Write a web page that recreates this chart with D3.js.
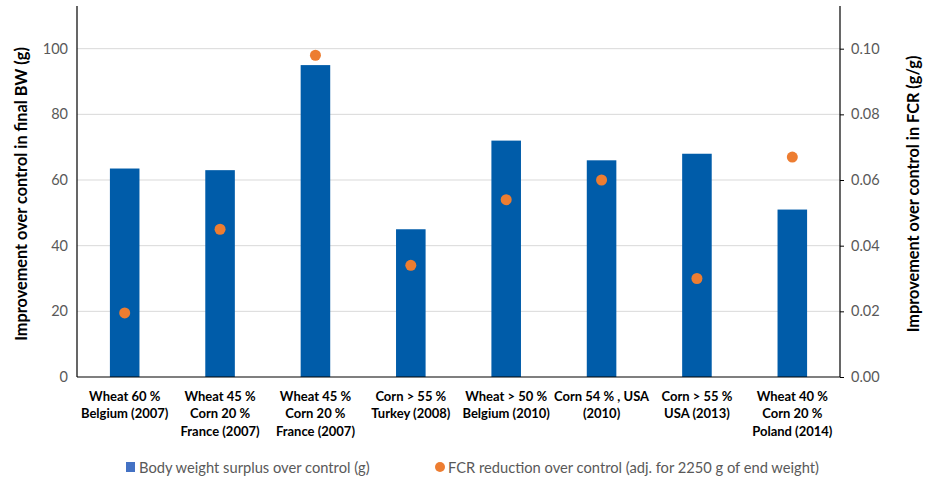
<!DOCTYPE html>
<html>
<head>
<meta charset="utf-8">
<script src="https://cdn.jsdelivr.net/npm/d3@7/dist/d3.min.js"></script>
<style>
  body { margin: 0; background: #fff; }
  svg { display: block; }
  text { font-family: Lato, "Open Sans", sans-serif; }
</style>
</head>
<body>
<svg id="chart" width="933" height="479"></svg>
<script>
const categories = [
  ["Wheat 60 %", "Belgium (2007)"],
  ["Wheat 45 %", "Corn 20 %", "France (2007)"],
  ["Wheat 45 %", "Corn 20 %", "France (2007)"],
  ["Corn > 55 %", "Turkey (2008)"],
  ["Wheat > 50 %", "Belgium (2010)"],
  ["Corn 54 % , USA", "(2010)"],
  ["Corn > 55 %", "USA (2013)"],
  ["Wheat 40 %", "Corn 20 %", "Poland (2014)"]
];
const bwSurplus = [63.5, 63, 95, 45, 72, 66, 68, 51];
const fcrReduction = [0.0195, 0.045, 0.098, 0.034, 0.054, 0.060, 0.030, 0.067];
const leftTicks = [0, 20, 40, 60, 80, 100];
const rightTicks = [0, 0.02, 0.04, 0.06, 0.08, 0.10];
const seriesNames = ["Body weight surplus over control (g)", "FCR reduction over control (adj. for 2250 g of end weight)"];
const leftTitle = "Improvement over  control in final BW (g)";
const rightTitle = "Improvement over  control in FCR  (g/g)";

const svg = d3.select("#chart");
const m = { left: 77, right: 840, top: 6, bottom: 377 };
const idx = categories.map((d, i) => i);

const x = d3.scaleBand().domain(idx).range([m.left, m.right]).paddingInner(0.69).paddingOuter(0.345);
const yL = d3.scaleLinear().domain([0, 113]).range([m.bottom, m.top]);
const yR = d3.scaleLinear().domain([0, 0.113]).range([m.bottom, m.top]);

// gridlines
svg.append("g").selectAll("line").data(leftTicks.filter(t => t > 0)).join("line")
  .attr("x1", m.left).attr("x2", m.right)
  .attr("y1", d => yL(d)).attr("y2", d => yL(d))
  .attr("stroke", "#d9d9d9").attr("stroke-width", 1);

// bars
svg.append("g").selectAll("rect").data(bwSurplus).join("rect")
  .attr("x", (d, i) => x(i)).attr("width", x.bandwidth())
  .attr("y", d => yL(d)).attr("height", d => yL(0) - yL(d))
  .attr("fill", "#005CA9");

// dots
svg.append("g").selectAll("circle").data(fcrReduction).join("circle")
  .attr("cx", (d, i) => x(i) + x.bandwidth() / 2)
  .attr("cy", d => yR(d)).attr("r", 5.5)
  .attr("fill", "#ED7D31");

// left axis
const axL = svg.append("g").attr("transform", `translate(${m.left},0)`)
  .call(d3.axisLeft(yL).tickValues(leftTicks).tickSize(0).tickPadding(9).tickFormat(d3.format("d")));
axL.select(".domain").remove();
axL.selectAll("text").attr("fill", "#595959").style("font-size", "14.5px").style("font-family", "Lato, sans-serif");
svg.append("line").attr("x1", m.left).attr("x2", m.left).attr("y1", m.top).attr("y2", m.bottom)
  .attr("stroke", "#000").attr("stroke-width", 1.2);

// right axis
const axR = svg.append("g").attr("transform", `translate(${m.right},0)`)
  .call(d3.axisRight(yR).tickValues(rightTicks).tickSize(4).tickPadding(7).tickFormat(d3.format(".2f")));
axR.select(".domain").remove();
axR.selectAll("line").attr("stroke", "#000");
axR.selectAll("text").attr("fill", "#595959").style("font-size", "14.5px").style("font-family", "Lato, sans-serif");
svg.append("line").attr("x1", m.right).attr("x2", m.right).attr("y1", m.top).attr("y2", m.bottom)
  .attr("stroke", "#000").attr("stroke-width", 1.2);

// bottom axis line
svg.append("line").attr("x1", m.left).attr("x2", m.right).attr("y1", m.bottom).attr("y2", m.bottom)
  .attr("stroke", "#000").attr("stroke-width", 1.2);

// category labels
const cl = svg.append("g").selectAll("text").data(categories).join("text")
  .attr("text-anchor", "middle")
  .attr("font-weight", "bold").style("font-size", "13px").attr("fill", "#000");
cl.each(function(d, i) {
  const t = d3.select(this);
  d.forEach((line, j) => {
    t.append("tspan").attr("x", x(i) + x.bandwidth() / 2).attr("y", 400.5 + j * 17.5).text(line);
  });
});

// axis titles
svg.append("text").attr("transform", `translate(27,194) rotate(-90)`)
  .attr("text-anchor", "middle").attr("font-weight", "bold").style("font-size", "16.3px").text(leftTitle);
svg.append("text").attr("transform", `translate(919,194) rotate(-90)`)
  .attr("text-anchor", "middle").attr("font-weight", "bold").style("font-size", "16.3px").text(rightTitle);

// legend
const lg = svg.append("g");
lg.append("rect").attr("x", 126).attr("y", 462).attr("width", 9).attr("height", 10).attr("fill", "#4472C4");
lg.append("text").attr("x", 139).attr("y", 472.5).attr("fill", "#595959").style("font-size", "14.7px").text(seriesNames[0]);
lg.append("circle").attr("cx", 440).attr("cy", 467).attr("r", 5).attr("fill", "#ED7D31");
lg.append("text").attr("x", 448).attr("y", 472.5).attr("fill", "#595959").style("font-size", "14.7px").text(seriesNames[1]);
</script>
</body>
</html>
